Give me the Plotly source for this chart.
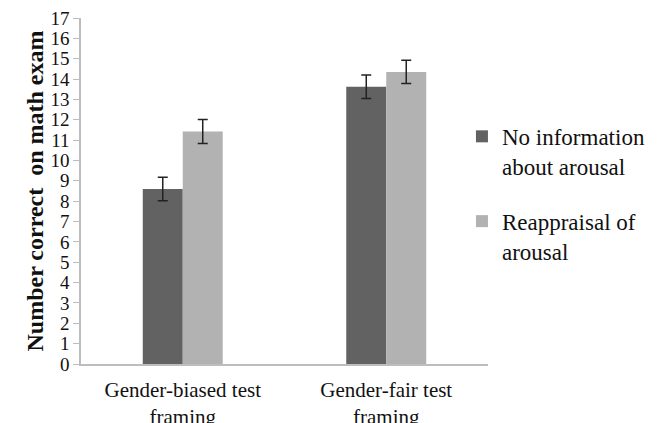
import plotly.graph_objects as go

categories = ["Gender-biased test<br>framing", "Gender-fair test<br>framing"]
series_names = ["No information<br>about arousal", "Reappraisal of<br>arousal"]
no_info = [8.6, 13.62]
reappraisal = [11.42, 14.35]
no_info_err = [0.58, 0.58]
reappraisal_err = [0.59, 0.57]
colors = ["#626262", "#b2b2b2"]
y_ticks = list(range(0, 18))

FONT = "Liberation Serif, Times New Roman, Times, serif"

fig = go.Figure()
for i, (name, vals, errs, col) in enumerate([
    (series_names[0], no_info, no_info_err, colors[0]),
    (series_names[1], reappraisal, reappraisal_err, colors[1]),
]):
    fig.add_trace(go.Bar(
        x=categories, y=vals, name=name, legendgroup=f"g{i}",
        marker=dict(color=col, line=dict(width=0)),
        error_y=dict(type="data", array=errs, visible=True,
                     color="#222222", thickness=1.5, width=5),
    ))

fig.update_layout(
    width=667, height=423,
    margin=dict(l=73, r=187, t=10, b=67),
    paper_bgcolor="white", plot_bgcolor="white",
    barmode="group", bargap=0.607, bargroupgap=0,
    showlegend=True,
    legend=dict(x=0.936, xanchor="left", y=0.72, yanchor="top",
                font=dict(family=FONT, size=23, color="#111111"),
                valign="top", tracegroupgap=22, bgcolor="rgba(0,0,0,0)"),
    xaxis=dict(showline=True, linecolor="#bdbdbd", linewidth=1.5,
               ticks="", showgrid=False, zeroline=False, automargin=False,
               ticklabelstandoff=6, ticklabeloverflow="allow",
               tickfont=dict(family=FONT, size=21, color="#111111")),
    yaxis=dict(range=[0, 17], tickvals=y_ticks, showline=True,
               linecolor="#bdbdbd", linewidth=1.5, ticks="outside",
               ticklen=6, tickcolor="#bdbdbd", showgrid=False, automargin=False,
               ticklabeloverflow="allow",
               zeroline=False, tickfont=dict(family=FONT, size=19, color="#111111"),
               title=dict(text="<b>Number correct  on math exam</b>",
                          font=dict(family=FONT, size=24, color="#111111"),
                          standoff=0)),
)
fig.write_html("out.html")
